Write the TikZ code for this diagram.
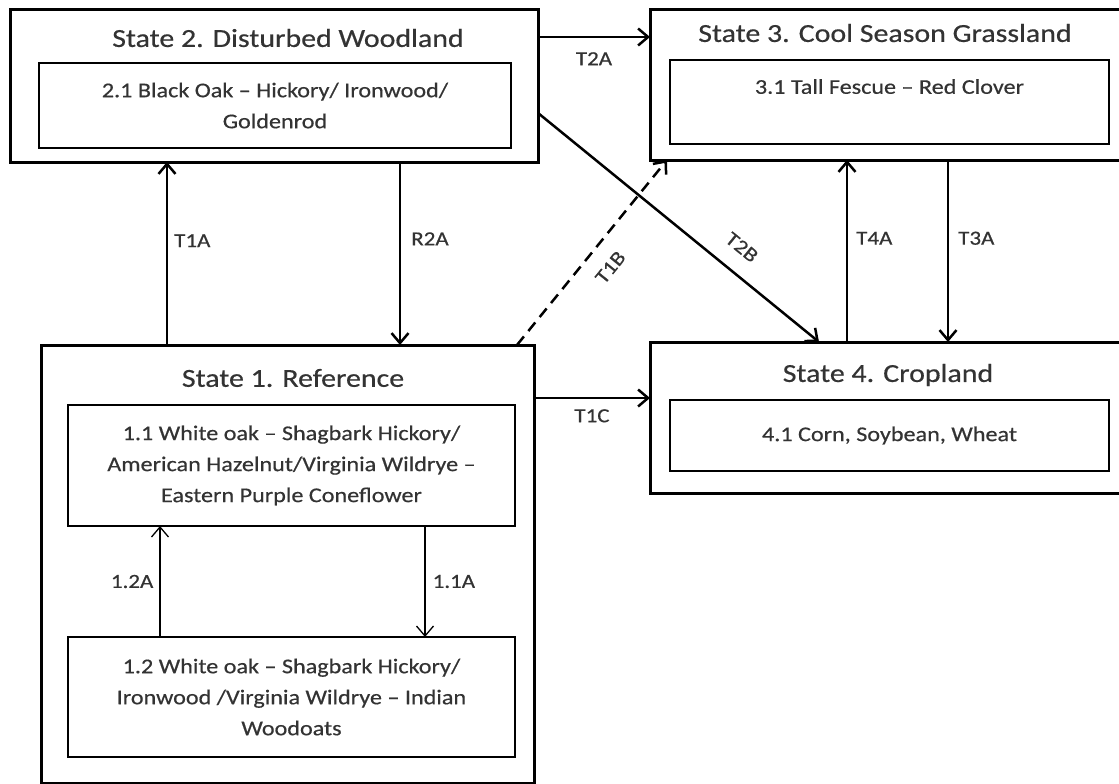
\documentclass[tikz,border=0pt]{standalone}
\usepackage{fontspec}
\setmainfont{Carlito}[FakeStretch=1.15, FakeBold=0.5]
\usepackage{xcolor}
\usetikzlibrary{arrows.meta,positioning,calc}
\definecolor{txtgray}{HTML}{333333}

\begin{document}
\begin{tikzpicture}[x=1pt, y=-1pt, >={Straight Barb[length=10pt,width=17pt]},
  statebox/.style={draw, line width=3pt, inner sep=0pt, outer sep=0pt, anchor=north west},
  phasebox/.style={draw, line width=1.4pt, inner sep=0pt, outer sep=0pt, align=center,
    text=txtgray, font=\fontsize{21}{31}\selectfont},
  title/.style={text=txtgray, font=\fontsize{26}{30}\selectfont},
  lbl/.style={text=txtgray, font=\fontsize{20}{24}\selectfont, inner sep=1pt},
  trans/.style={->, line width=2.5pt},
  pathway/.style={->, line width=1.3pt}]

\useasboundingbox (0,0) rectangle (1119,784);

% --- x and y positions of the connectors ---
\coordinate (xT1A) at (167,0);
\coordinate (xR2A) at (400,0);
\coordinate (xT4A) at (847,0);
\coordinate (xT3A) at (948,0);
\coordinate (xT2B) at (819,0);
\coordinate (xT1B) at (517,0);
\coordinate (xT1Bend) at (667,0);
\coordinate (xP12) at (160,0);
\coordinate (xP11) at (425,0);
\coordinate (yT2A) at (0,37);
\coordinate (yT2B) at (0,113);
\coordinate (yT1C) at (0,398);

% ------------------ state boxes ------------------
\node[statebox, minimum width=528pt, minimum height=152pt] (s2) at (10,10) {};
\node[statebox, minimum width=480pt, minimum height=150pt] (s3) at (650,10) {};
\node[statebox, minimum width=493pt, minimum height=438pt] (s1) at (41,345) {};
\node[statebox, minimum width=480pt, minimum height=151pt] (s4) at (650,342) {};

% titles
\node[title] (s2t) at (288,38)  {State 2. Disturbed Woodland};
\node[title] (s3t) at (885,33)  {State 3. Cool Season Grassland};
\node[title] (s1t) at (293,378) {State 1. Reference};
\node[title] (s4t) at (888,375) {State 4. Cropland};

% community phases
\node[phasebox, minimum width=472pt, minimum height=85pt] (p21) at (275,105.5)
  {2.1 Black Oak -- Hickory/ Ironwood/\\Goldenrod};
\node[phasebox, minimum width=439pt, minimum height=84pt] (p31) at (889.5,102)
  {3.1 Tall Fescue -- Red Clover\\\mbox{}};
\node[phasebox, minimum width=439pt, minimum height=71pt] (p41) at (889.5,435.5)
  {4.1 Corn, Soybean, Wheat};
\node[phasebox, minimum width=447pt, minimum height=121pt] (p11) at (291.5,465.5)
  {1.1 White oak -- Shagbark Hickory/\\American Hazelnut/Virginia Wildrye --\\Eastern Purple Coneflower};
\node[phasebox, minimum width=447pt, minimum height=120pt] (p12) at (291.5,697)
  {1.2 White oak -- Shagbark Hickory/\\Ironwood /Virginia Wildrye -- Indian\\Woodoats};

% ------------------ transitions ------------------
\draw[trans] (s1.north -| xT1A) -- (s2.south -| xT1A)
  node[lbl, pos=0.57, anchor=west, xshift=5pt] {T1A};
\draw[trans] (s2.south -| xR2A) -- (s1.north -| xR2A)
  node[lbl, pos=0.42, anchor=west, xshift=9pt] {R2A};
\draw[trans] (s4.north -| xT4A) -- (s3.south -| xT4A)
  node[lbl, pos=0.57, anchor=west, xshift=7pt] {T4A};
\draw[trans] (s3.south -| xT3A) -- (s4.north -| xT3A)
  node[lbl, pos=0.43, anchor=west, xshift=8pt] {T3A};
\draw[trans] (s2.east |- yT2A) -- (s3.west |- yT2A)
  node[lbl, midway, below=13pt] {T2A};
\draw[trans] (s1.east |- yT1C) -- (s4.west |- yT1C)
  node[lbl, midway, below=9pt] {T1C};
\draw[trans] (s2.east |- yT2B) -- (s4.north -| xT2B)
  node[lbl, pos=0.67, sloped, above=16pt] {T2B};
\draw[trans, dash pattern=on 11pt off 7pt] (s1.north -| xT1B) -- (s3.south -| xT1Bend)
  node[lbl, pos=0.5, sloped, below=15pt] {T1B};

% pathways inside state 1
\draw[pathway] (p12.north -| xP12) -- (p11.south -| xP12)
  node[lbl, midway, left=5pt] {1.2A};
\draw[pathway] (p11.south -| xP11) -- (p12.north -| xP11)
  node[lbl, midway, right=6pt] {1.1A};

\end{tikzpicture}
\end{document}
